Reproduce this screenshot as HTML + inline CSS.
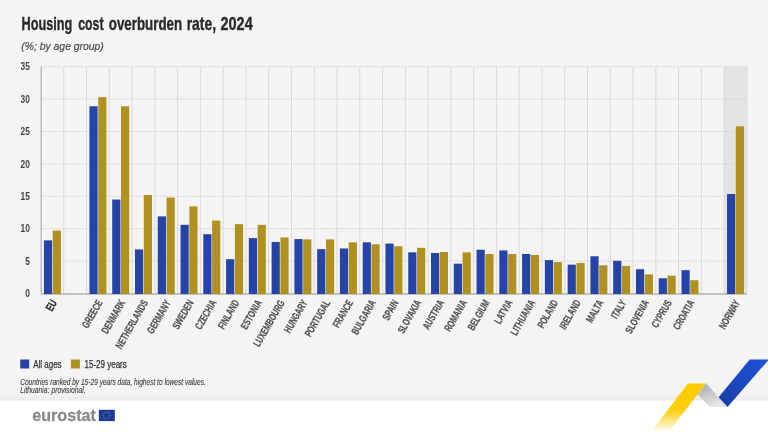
<!DOCTYPE html>
<html><head><meta charset="utf-8"><title>Housing cost overburden rate, 2024</title>
<style>
html,body{margin:0;padding:0;background:#f4f4f4;}
body{width:768px;height:432px;overflow:hidden;}
svg{display:block;}
text{font-family:"Liberation Sans",Arial,sans-serif;}
.title{font-weight:bold;font-size:18.6px;fill:#2b2b2f;stroke:#2b2b2f;stroke-width:0.4px;}
.sub{font-style:italic;font-size:11.2px;fill:#4a4a4a;stroke:#4a4a4a;stroke-width:0.2px;}
.yl{font-size:10.2px;fill:#444;font-weight:bold;}
.xl{font-size:10.6px;fill:#505050;font-weight:bold;stroke:#505050;stroke-width:0.2px;}
.xl.b{font-weight:bold;fill:#2a2a2a;font-size:11.4px;stroke:#2a2a2a;stroke-width:0.25px;}
.leg{font-size:10px;fill:#333;stroke:#333;stroke-width:0.25px;}
.note{font-size:8.4px;font-style:italic;fill:#383838;stroke:#383838;stroke-width:0.1px;}
.logo{font-size:16.8px;font-weight:bold;fill:#8a8a8a;stroke:#8a8a8a;stroke-width:0.3px;}
</style></head>
<body>
<svg width="768" height="432" viewBox="0 0 768 432">
<rect x="0" y="0" width="768" height="432" fill="#f4f4f4"/>
<defs><linearGradient id="sh" x1="0" y1="0" x2="0" y2="1"><stop offset="0" stop-color="#000" stop-opacity="0"/><stop offset="1" stop-color="#000" stop-opacity="0.035"/></linearGradient></defs>
<rect x="0" y="392" width="768" height="8.5" fill="url(#sh)"/>
<rect x="0" y="400.5" width="768" height="32" fill="#ffffff"/>
<rect x="724.13" y="66.7" width="22.77" height="226.8" fill="#e4e4e4"/>
<line x1="63.77" y1="66.7" x2="63.77" y2="293.5" stroke="#dadada" stroke-width="1"/>
<line x1="86.54" y1="66.7" x2="86.54" y2="293.5" stroke="#dadada" stroke-width="1"/>
<line x1="109.31" y1="66.7" x2="109.31" y2="293.5" stroke="#dadada" stroke-width="1"/>
<line x1="132.08" y1="66.7" x2="132.08" y2="293.5" stroke="#dadada" stroke-width="1"/>
<line x1="154.85" y1="66.7" x2="154.85" y2="293.5" stroke="#dadada" stroke-width="1"/>
<line x1="177.63" y1="66.7" x2="177.63" y2="293.5" stroke="#dadada" stroke-width="1"/>
<line x1="200.4" y1="66.7" x2="200.4" y2="293.5" stroke="#dadada" stroke-width="1"/>
<line x1="223.17" y1="66.7" x2="223.17" y2="293.5" stroke="#dadada" stroke-width="1"/>
<line x1="245.94" y1="66.7" x2="245.94" y2="293.5" stroke="#dadada" stroke-width="1"/>
<line x1="268.71" y1="66.7" x2="268.71" y2="293.5" stroke="#dadada" stroke-width="1"/>
<line x1="291.48" y1="66.7" x2="291.48" y2="293.5" stroke="#dadada" stroke-width="1"/>
<line x1="314.25" y1="66.7" x2="314.25" y2="293.5" stroke="#dadada" stroke-width="1"/>
<line x1="337.02" y1="66.7" x2="337.02" y2="293.5" stroke="#dadada" stroke-width="1"/>
<line x1="359.79" y1="66.7" x2="359.79" y2="293.5" stroke="#dadada" stroke-width="1"/>
<line x1="382.56" y1="66.7" x2="382.56" y2="293.5" stroke="#dadada" stroke-width="1"/>
<line x1="405.34" y1="66.7" x2="405.34" y2="293.5" stroke="#dadada" stroke-width="1"/>
<line x1="428.11" y1="66.7" x2="428.11" y2="293.5" stroke="#dadada" stroke-width="1"/>
<line x1="450.88" y1="66.7" x2="450.88" y2="293.5" stroke="#dadada" stroke-width="1"/>
<line x1="473.65" y1="66.7" x2="473.65" y2="293.5" stroke="#dadada" stroke-width="1"/>
<line x1="496.42" y1="66.7" x2="496.42" y2="293.5" stroke="#dadada" stroke-width="1"/>
<line x1="519.19" y1="66.7" x2="519.19" y2="293.5" stroke="#dadada" stroke-width="1"/>
<line x1="541.96" y1="66.7" x2="541.96" y2="293.5" stroke="#dadada" stroke-width="1"/>
<line x1="564.73" y1="66.7" x2="564.73" y2="293.5" stroke="#dadada" stroke-width="1"/>
<line x1="587.5" y1="66.7" x2="587.5" y2="293.5" stroke="#dadada" stroke-width="1"/>
<line x1="610.27" y1="66.7" x2="610.27" y2="293.5" stroke="#dadada" stroke-width="1"/>
<line x1="633.05" y1="66.7" x2="633.05" y2="293.5" stroke="#dadada" stroke-width="1"/>
<line x1="655.82" y1="66.7" x2="655.82" y2="293.5" stroke="#dadada" stroke-width="1"/>
<line x1="678.59" y1="66.7" x2="678.59" y2="293.5" stroke="#dadada" stroke-width="1"/>
<line x1="701.36" y1="66.7" x2="701.36" y2="293.5" stroke="#dadada" stroke-width="1"/>
<line x1="724.13" y1="66.7" x2="724.13" y2="293.5" stroke="#dadada" stroke-width="1"/>
<line x1="746.9" y1="66.7" x2="746.9" y2="293.5" stroke="#dadada" stroke-width="1"/>
<line x1="41" y1="261.1" x2="746.9" y2="261.1" stroke="#d6d6d6" stroke-width="1" stroke-dasharray="1.5,0.75"/>
<line x1="41" y1="228.7" x2="746.9" y2="228.7" stroke="#d6d6d6" stroke-width="1" stroke-dasharray="1.5,0.75"/>
<line x1="41" y1="196.3" x2="746.9" y2="196.3" stroke="#d6d6d6" stroke-width="1" stroke-dasharray="1.5,0.75"/>
<line x1="41" y1="163.9" x2="746.9" y2="163.9" stroke="#d6d6d6" stroke-width="1" stroke-dasharray="1.5,0.75"/>
<line x1="41" y1="131.5" x2="746.9" y2="131.5" stroke="#d6d6d6" stroke-width="1" stroke-dasharray="1.5,0.75"/>
<line x1="41" y1="99.1" x2="746.9" y2="99.1" stroke="#d6d6d6" stroke-width="1" stroke-dasharray="1.5,0.75"/>
<line x1="41" y1="66.7" x2="746.9" y2="66.7" stroke="#d6d6d6" stroke-width="1" stroke-dasharray="1.5,0.75"/>
<line x1="41.2" y1="66.7" x2="41.2" y2="293.5" stroke="#a8a8a8" stroke-width="1.1"/>
<line x1="41" y1="294" x2="746.9" y2="294" stroke="#b0b0b0" stroke-width="1.5"/>
<rect x="43.9" y="240.36" width="8.2" height="53.64" fill="#2644A7"/>
<rect x="52.7" y="230.64" width="8.2" height="63.36" fill="#B09120"/>
<rect x="89.44" y="106.23" width="8.2" height="187.77" fill="#2644A7"/>
<rect x="98.24" y="97.16" width="8.2" height="196.84" fill="#B09120"/>
<rect x="112.21" y="199.54" width="8.2" height="94.46" fill="#2644A7"/>
<rect x="121.01" y="106.23" width="8.2" height="187.77" fill="#B09120"/>
<rect x="134.98" y="249.44" width="8.2" height="44.56" fill="#2644A7"/>
<rect x="143.78" y="195" width="8.2" height="99" fill="#B09120"/>
<rect x="157.75" y="216.39" width="8.2" height="77.61" fill="#2644A7"/>
<rect x="166.55" y="197.6" width="8.2" height="96.4" fill="#B09120"/>
<rect x="180.53" y="224.81" width="8.2" height="69.19" fill="#2644A7"/>
<rect x="189.33" y="206.34" width="8.2" height="87.66" fill="#B09120"/>
<rect x="203.3" y="234.21" width="8.2" height="59.79" fill="#2644A7"/>
<rect x="212.1" y="220.6" width="8.2" height="73.4" fill="#B09120"/>
<rect x="226.07" y="259.16" width="8.2" height="34.84" fill="#2644A7"/>
<rect x="234.87" y="224.16" width="8.2" height="69.84" fill="#B09120"/>
<rect x="248.84" y="238.1" width="8.2" height="55.9" fill="#2644A7"/>
<rect x="257.64" y="224.81" width="8.2" height="69.19" fill="#B09120"/>
<rect x="271.61" y="241.98" width="8.2" height="52.02" fill="#2644A7"/>
<rect x="280.41" y="237.45" width="8.2" height="56.55" fill="#B09120"/>
<rect x="294.38" y="239.07" width="8.2" height="54.93" fill="#2644A7"/>
<rect x="303.18" y="239.39" width="8.2" height="54.61" fill="#B09120"/>
<rect x="317.15" y="249.11" width="8.2" height="44.89" fill="#2644A7"/>
<rect x="325.95" y="239.39" width="8.2" height="54.61" fill="#B09120"/>
<rect x="339.92" y="248.46" width="8.2" height="45.54" fill="#2644A7"/>
<rect x="348.72" y="242.31" width="8.2" height="51.69" fill="#B09120"/>
<rect x="362.69" y="242.31" width="8.2" height="51.69" fill="#2644A7"/>
<rect x="371.49" y="244.25" width="8.2" height="49.75" fill="#B09120"/>
<rect x="385.46" y="243.6" width="8.2" height="50.4" fill="#2644A7"/>
<rect x="394.26" y="246.2" width="8.2" height="47.8" fill="#B09120"/>
<rect x="408.24" y="252.35" width="8.2" height="41.65" fill="#2644A7"/>
<rect x="417.04" y="247.82" width="8.2" height="46.18" fill="#B09120"/>
<rect x="431.01" y="253" width="8.2" height="41" fill="#2644A7"/>
<rect x="439.81" y="252.03" width="8.2" height="41.97" fill="#B09120"/>
<rect x="453.78" y="263.69" width="8.2" height="30.31" fill="#2644A7"/>
<rect x="462.58" y="252.35" width="8.2" height="41.65" fill="#B09120"/>
<rect x="476.55" y="249.76" width="8.2" height="44.24" fill="#2644A7"/>
<rect x="485.35" y="253.97" width="8.2" height="40.03" fill="#B09120"/>
<rect x="499.32" y="250.41" width="8.2" height="43.59" fill="#2644A7"/>
<rect x="508.12" y="253.97" width="8.2" height="40.03" fill="#B09120"/>
<rect x="522.09" y="253.97" width="8.2" height="40.03" fill="#2644A7"/>
<rect x="530.89" y="254.94" width="8.2" height="39.06" fill="#B09120"/>
<rect x="544.86" y="260.13" width="8.2" height="33.87" fill="#2644A7"/>
<rect x="553.66" y="262.07" width="8.2" height="31.93" fill="#B09120"/>
<rect x="567.63" y="264.66" width="8.2" height="29.34" fill="#2644A7"/>
<rect x="576.43" y="263.04" width="8.2" height="30.96" fill="#B09120"/>
<rect x="590.4" y="256.24" width="8.2" height="37.76" fill="#2644A7"/>
<rect x="599.2" y="265.31" width="8.2" height="28.69" fill="#B09120"/>
<rect x="613.17" y="260.78" width="8.2" height="33.22" fill="#2644A7"/>
<rect x="621.97" y="265.96" width="8.2" height="28.04" fill="#B09120"/>
<rect x="635.95" y="269.2" width="8.2" height="24.8" fill="#2644A7"/>
<rect x="644.75" y="274.38" width="8.2" height="19.62" fill="#B09120"/>
<rect x="658.72" y="278.27" width="8.2" height="15.73" fill="#2644A7"/>
<rect x="667.52" y="275.68" width="8.2" height="18.32" fill="#B09120"/>
<rect x="681.49" y="270.17" width="8.2" height="23.83" fill="#2644A7"/>
<rect x="690.29" y="280.22" width="8.2" height="13.78" fill="#B09120"/>
<rect x="727.03" y="194.03" width="8.2" height="99.97" fill="#2644A7"/>
<rect x="735.83" y="126.32" width="8.2" height="167.68" fill="#B09120"/>
<text transform="translate(29.8,297.2) scale(0.82,1)" class="yl" text-anchor="end">0</text>
<text transform="translate(29.8,264.8) scale(0.82,1)" class="yl" text-anchor="end">5</text>
<text transform="translate(29.8,232.4) scale(0.82,1)" class="yl" text-anchor="end">10</text>
<text transform="translate(29.8,200) scale(0.82,1)" class="yl" text-anchor="end">15</text>
<text transform="translate(29.8,167.6) scale(0.82,1)" class="yl" text-anchor="end">20</text>
<text transform="translate(29.8,135.2) scale(0.82,1)" class="yl" text-anchor="end">25</text>
<text transform="translate(29.8,102.8) scale(0.82,1)" class="yl" text-anchor="end">30</text>
<text transform="translate(29.8,70.4) scale(0.82,1)" class="yl" text-anchor="end">35</text>
<text transform="translate(57.39,302.6) rotate(-60) scale(0.68,1)" class="xl b" text-anchor="end">EU</text>
<text transform="translate(102.93,302.6) rotate(-60) scale(0.68,1)" class="xl" text-anchor="end">GREECE</text>
<text transform="translate(125.7,302.6) rotate(-60) scale(0.68,1)" class="xl" text-anchor="end">DENMARK</text>
<text transform="translate(148.47,302.6) rotate(-60) scale(0.68,1)" class="xl" text-anchor="end">NETHERLANDS</text>
<text transform="translate(171.24,302.6) rotate(-60) scale(0.68,1)" class="xl" text-anchor="end">GERMANY</text>
<text transform="translate(194.01,302.6) rotate(-60) scale(0.68,1)" class="xl" text-anchor="end">SWEDEN</text>
<text transform="translate(216.78,302.6) rotate(-60) scale(0.68,1)" class="xl" text-anchor="end">CZECHIA</text>
<text transform="translate(239.55,302.6) rotate(-60) scale(0.68,1)" class="xl" text-anchor="end">FINLAND</text>
<text transform="translate(262.32,302.6) rotate(-60) scale(0.68,1)" class="xl" text-anchor="end">ESTONIA</text>
<text transform="translate(285.1,302.6) rotate(-60) scale(0.68,1)" class="xl" text-anchor="end">LUXEMBOURG</text>
<text transform="translate(307.87,302.6) rotate(-60) scale(0.68,1)" class="xl" text-anchor="end">HUNGARY</text>
<text transform="translate(330.64,302.6) rotate(-60) scale(0.68,1)" class="xl" text-anchor="end">PORTUGAL</text>
<text transform="translate(353.41,302.6) rotate(-60) scale(0.68,1)" class="xl" text-anchor="end">FRANCE</text>
<text transform="translate(376.18,302.6) rotate(-60) scale(0.68,1)" class="xl" text-anchor="end">BULGARIA</text>
<text transform="translate(398.95,302.6) rotate(-60) scale(0.68,1)" class="xl" text-anchor="end">SPAIN</text>
<text transform="translate(421.72,302.6) rotate(-60) scale(0.68,1)" class="xl" text-anchor="end">SLOVAKIA</text>
<text transform="translate(444.49,302.6) rotate(-60) scale(0.68,1)" class="xl" text-anchor="end">AUSTRIA</text>
<text transform="translate(467.26,302.6) rotate(-60) scale(0.68,1)" class="xl" text-anchor="end">ROMANIA</text>
<text transform="translate(490.03,302.6) rotate(-60) scale(0.68,1)" class="xl" text-anchor="end">BELGIUM</text>
<text transform="translate(512.8,302.6) rotate(-60) scale(0.68,1)" class="xl" text-anchor="end">LATVIA</text>
<text transform="translate(535.58,302.6) rotate(-60) scale(0.68,1)" class="xl" text-anchor="end">LITHUANIA</text>
<text transform="translate(558.35,302.6) rotate(-60) scale(0.68,1)" class="xl" text-anchor="end">POLAND</text>
<text transform="translate(581.12,302.6) rotate(-60) scale(0.68,1)" class="xl" text-anchor="end">IRELAND</text>
<text transform="translate(603.89,302.6) rotate(-60) scale(0.68,1)" class="xl" text-anchor="end">MALTA</text>
<text transform="translate(626.66,302.6) rotate(-60) scale(0.68,1)" class="xl" text-anchor="end">ITALY</text>
<text transform="translate(649.43,302.6) rotate(-60) scale(0.68,1)" class="xl" text-anchor="end">SLOVENIA</text>
<text transform="translate(672.2,302.6) rotate(-60) scale(0.68,1)" class="xl" text-anchor="end">CYPRUS</text>
<text transform="translate(694.97,302.6) rotate(-60) scale(0.68,1)" class="xl" text-anchor="end">CROATIA</text>
<text transform="translate(740.51,302.6) rotate(-60) scale(0.68,1)" class="xl" text-anchor="end">NORWAY</text>
<text x="21.5" y="30" class="title" textLength="50.79" lengthAdjust="spacingAndGlyphs">Housing</text>
<text x="78.2" y="30" class="title" textLength="25.3" lengthAdjust="spacingAndGlyphs">cost</text>
<text x="108.8" y="30" class="title" textLength="73.3" lengthAdjust="spacingAndGlyphs">overburden</text>
<text x="186.7" y="30" class="title" textLength="29.3" lengthAdjust="spacingAndGlyphs">rate,</text>
<text x="220.5" y="30" class="title" textLength="32.19" lengthAdjust="spacingAndGlyphs">2024</text>
<text x="21.3" y="49.5" class="sub" textLength="82.5" lengthAdjust="spacingAndGlyphs">(%; by age group)</text>
<rect x="20.2" y="359.5" width="9" height="9" fill="#2644A7"/>
<text x="33.2" y="367.8" class="leg" textLength="28.4" lengthAdjust="spacingAndGlyphs">All ages</text>
<rect x="70.9" y="359.5" width="9" height="9" fill="#B09120"/>
<text x="84.5" y="367.8" class="leg" textLength="42.3" lengthAdjust="spacingAndGlyphs">15-29 years</text>
<text x="20.2" y="384.7" class="note" textLength="185.6" lengthAdjust="spacingAndGlyphs">Countries ranked by 15-29 years data, highest to lowest values.</text>
<text x="20.2" y="393.2" class="note" textLength="65.4" lengthAdjust="spacingAndGlyphs">Lithuania: provisional.</text>
<text x="32.2" y="420.8" class="logo" textLength="63.7" lengthAdjust="spacingAndGlyphs">eurostat</text>
<rect x="98.8" y="409.8" width="16" height="11.3" fill="#1b3b95"/>
<circle cx="106.8" cy="412.05" r="0.45" fill="#c8b85a"/><circle cx="108.5" cy="412.51" r="0.45" fill="#c8b85a"/><circle cx="109.74" cy="413.75" r="0.45" fill="#c8b85a"/><circle cx="110.2" cy="415.45" r="0.45" fill="#c8b85a"/><circle cx="109.74" cy="417.15" r="0.45" fill="#c8b85a"/><circle cx="108.5" cy="418.39" r="0.45" fill="#c8b85a"/><circle cx="106.8" cy="418.85" r="0.45" fill="#c8b85a"/><circle cx="105.1" cy="418.39" r="0.45" fill="#c8b85a"/><circle cx="103.86" cy="417.15" r="0.45" fill="#c8b85a"/><circle cx="103.4" cy="415.45" r="0.45" fill="#c8b85a"/><circle cx="103.86" cy="413.75" r="0.45" fill="#c8b85a"/><circle cx="105.1" cy="412.51" r="0.45" fill="#c8b85a"/>
<defs>
<linearGradient id="gy" x1="0" y1="0" x2="0" y2="1"><stop offset="0" stop-color="#ffcc00" stop-opacity="1"/><stop offset="0.55" stop-color="#ffcc00" stop-opacity="0.95"/><stop offset="1" stop-color="#ffcc00" stop-opacity="0"/></linearGradient>
<linearGradient id="gg" x1="0" y1="0" x2="0.4" y2="1"><stop offset="0" stop-color="#a6a6ab"/><stop offset="1" stop-color="#e6e6e6"/></linearGradient>
<linearGradient id="gb" x1="1" y1="0" x2="0" y2="1"><stop offset="0" stop-color="#1d52db"/><stop offset="1" stop-color="#1a3da6"/></linearGradient>
</defs>
<polygon points="688,383.6 706,383.6 668.7,432 650.7,432" fill="url(#gy)"/>
<polygon points="706,383.6 727.6,407 709.7,407 697.7,394.4" fill="url(#gg)"/>
<polygon points="718.6,397.3 749.7,359.4 768,359.4 768,360.5 727.5,407" fill="url(#gb)"/>
</svg>
</body></html>
